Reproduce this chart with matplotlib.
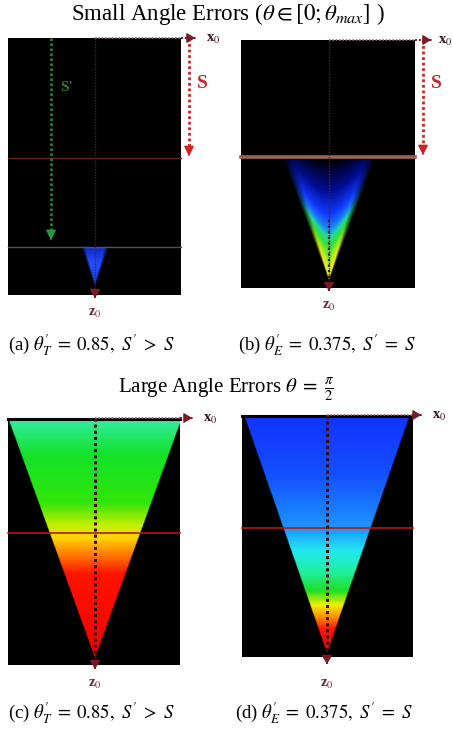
import numpy as np
import matplotlib.pyplot as plt
from matplotlib.colors import LinearSegmentedColormap

plt.rcParams['font.family'] = ['Liberation Serif', 'DejaVu Serif']
plt.rcParams['mathtext.fontset'] = 'stix'

# angle errors shown in the captions
theta_T = 0.85
theta_E = 0.375

# colour of the beam along the cone: relative depth (0 = cone top, 1 = apex)
depth_a = [0.0, 0.45, 1.0]
colors_a = ['#1028c8', '#2050ff', '#1a3ce8']
depth_b = [0.0, 0.25, 0.45, 0.56, 0.64, 0.72, 0.86, 1.0]
colors_b = ['#000008', '#000c90', '#1238ff', '#1a7cff', '#22d8a0', '#30e040', '#b8f010', '#f4f028']
depth_c = [0.0, 0.15, 0.35, 0.45, 0.5, 0.57, 0.65, 1.0]
colors_c = ['#34eca4', '#12e22a', '#30e60a', '#c8f000', '#ffd400', '#ff7a00', '#ff1400', '#f20000']
depth_d = [0.0, 0.25, 0.48, 0.57, 0.66, 0.74, 0.8, 0.85, 0.9, 1.0]
colors_d = ['#1232ff', '#1450ff', '#1e96ff', '#22e8f0', '#20f0a0', '#1ee024', '#f0f000',
            '#ff9000', '#ff1800', '#f00000']


def cone_rgb(box, cx, z_top, z_apex, half_w, depth, colors, soft=0.0, curve=0.0, res=2):
    x0, x1, y0, y1 = box
    xs = np.linspace(x0, x1, int((x1 - x0) * res))
    ys = np.linspace(y0, y1, int((y1 - y0) * res))
    X, Y = np.meshgrid(xs, ys)
    t = (Y - z_top) / (z_apex - z_top)
    hw = np.maximum(half_w * (1 - t), 1e-6)
    r = np.abs(X - cx) / hw
    cmap = LinearSegmentedColormap.from_list('beam', list(zip(depth, colors)))
    s = np.clip(t + curve * r ** 2, 0, 1)
    rgb = cmap(s)[..., :3]
    inside = ((t >= 0) & (t <= 1) & (r <= 1)).astype(float)
    if soft:
        inside = inside * np.clip((1 - r) / soft, 0, 1)
    return rgb * inside[..., None]


fig = plt.figure(figsize=(4.53, 7.29), dpi=100)
ax = fig.add_axes([0, 0, 1, 1])
ax.set_xlim(0, 453)
ax.set_ylim(729, 0)
ax.axis('off')

panels = [
    dict(box=(8, 181, 38, 295), cx=95, top=247, apex=285, hw=14, depth=depth_a, colors=colors_a,
         soft=0.3, curve=0.0, line=158, line_c='#6e1c1c', line_w=1.0, tip=198, lab=206),
    dict(box=(241, 415, 40, 288), cx=329, top=160, apex=280, hw=46, depth=depth_b, colors=colors_b,
         soft=0.25, curve=0.3, line=157, line_c='#a06244', line_w=2.6, tip=434, lab=438),
    dict(box=(8, 180, 418, 665), cx=95, top=418, apex=658, hw=87, depth=depth_c, colors=colors_c,
         soft=0.0, curve=0.0, line=533, line_c='#b41818', line_w=1.2, tip=195, lab=203),
    dict(box=(242, 413, 415, 657), cx=327, top=415, apex=653, hw=83, depth=depth_d, colors=colors_d,
         soft=0.0, curve=0.0, line=528, line_c='#b41818', line_w=1.2, tip=424, lab=432),
]

dark_red = '#7a1a28'
for i, p in enumerate(panels):
    x0, x1, y0, y1 = p['box']
    rgb = cone_rgb(p['box'], p['cx'], p['top'], p['apex'], p['hw'],
                   p['depth'], p['colors'], p['soft'], p['curve'])
    ax.imshow(rgb, extent=(x0, x1, y1, y0), origin='upper', aspect='auto',
              interpolation='bilinear', zorder=1)
    ax.plot([x0, x1], [p['line'], p['line']], color=p['line_c'], lw=p['line_w'], zorder=3)
    if i >= 2:
        ax.plot([x0, x1], [y0 + 1, y0 + 1], color='black', lw=2.2, zorder=3)
        ax.plot([p['cx'], p['cx']], [y0, p['apex']], color='#3a0c0c', lw=2.2,
                linestyle=(0, (1, 1)), zorder=4)
        z_end = p['apex'] + 14
        z_lab = 684
    else:
        ax.plot([p['cx'], p['cx']], [y0, y1], color='#5a1c1c', lw=1.0,
                linestyle=(0, (1, 1)), zorder=4)
        if i == 1:
            ax.plot([p['cx'], p['cx']], [p['top'] + 60, p['apex']], color='#202020', lw=1.6,
                    linestyle=(0, (1, 1.5)), zorder=4)
        z_end = y1 + 6
        z_lab = y1 + 18
    # z0 arrow below the box
    ax.annotate('', xy=(p['cx'], z_end), xytext=(p['cx'], z_end - 8),
                arrowprops=dict(arrowstyle='-|>,head_length=0.5,head_width=0.3',
                                color=dark_red, lw=1.2, mutation_scale=10), zorder=6)
    ax.text(p['cx'], z_lab, r'z$_0$', color='#6a2a3a', fontsize=10.5, fontweight='bold',
            ha='center', va='center')
    # x0 arrow along the top edge
    xa = p['tip']
    ax.plot([p['cx'], x1], [y0, y0], color='#9a7070', lw=1.2, linestyle=(0, (1, 1)), zorder=4)
    ax.plot([x1, xa - 4], [y0, y0], color=dark_red, lw=1.4, linestyle=(0, (1, 1)), zorder=4)
    ax.annotate('', xy=(xa, y0), xytext=(xa - 6, y0),
                arrowprops=dict(arrowstyle='-|>,head_length=0.5,head_width=0.3',
                                color=dark_red, lw=1.0, mutation_scale=10), zorder=6)
    ax.text(p['lab'], y0 + 1, r'x$_0$', color='#3a1020', fontsize=10.5, fontweight='bold',
            ha='left', va='center')
    # S arrow beside the small-angle panels
    if i < 2:
        sx = x1 + 8
        ax.plot([sx, sx], [y0, p['line'] - 6], color='#d42020', lw=2.0,
                linestyle=(0, (1, 1)), zorder=4)
        ax.annotate('', xy=(sx, p['line'] + 1), xytext=(sx, p['line'] - 7),
                    arrowprops=dict(arrowstyle='-|>,head_length=0.6,head_width=0.3',
                                    color='#d42020', lw=1.0, mutation_scale=10), zorder=6)
        ax.text(sx + 13, 83, 'S', color='#c42a2a', fontsize=14, fontweight='bold',
                ha='center', va='center')

# S' arrow in panel (a)
ax.plot([51, 51], [38, 236], color='#2a8a3a', lw=1.8, linestyle=(0, (1, 1)), zorder=4)
ax.annotate('', xy=(51, 243), xytext=(51, 235),
            arrowprops=dict(arrowstyle='-|>,head_length=0.6,head_width=0.3',
                            color='#2a9a3a', lw=1.0, mutation_scale=10), zorder=6)
ax.text(67, 87, "S'", color='#2a7a3a', fontsize=11, fontweight='bold', ha='center', va='center')

# green line where the beam starts in panel (a)
ax.plot([8, 181], [247, 247], color='#4a5a4a', lw=1.0, zorder=3)

# titles and captions
ax.text(228, 14, r'Small Angle Errors ($\theta \in [0;\theta_{max}]$ )', fontsize=16.5,
        ha='center', va='center')
ax.text(226, 390, r'Large Angle Errors $\theta\;=\;\frac{\pi}{2}$', fontsize=15,
        ha='center', va='center')
cap_a = r"(a) $\theta^{\prime}_{T} \;=\; %.2f,\ S^{\prime} \;>\; S$" % theta_T
cap_b = r"(b) $\theta^{\prime}_{E} \;=\; %.3f,\ S^{\prime} \;=\; S$" % theta_E
cap_c = r"(c) $\theta^{\prime}_{T} \;=\; %.2f,\ S^{\prime} \;>\; S$" % theta_T
cap_d = r"(d) $\theta^{\prime}_{E} \;=\; %.3f,\ S^{\prime} \;=\; S$" % theta_E
ax.text(8, 345, cap_a, fontsize=13.5, ha='left', va='center')
ax.text(238, 345, cap_b, fontsize=13.5, ha='left', va='center')
ax.text(8, 713, cap_c, fontsize=13.5, ha='left', va='center')
ax.text(235, 713, cap_d, fontsize=13.5, ha='left', va='center')

fig.savefig('out.png', dpi=100)
